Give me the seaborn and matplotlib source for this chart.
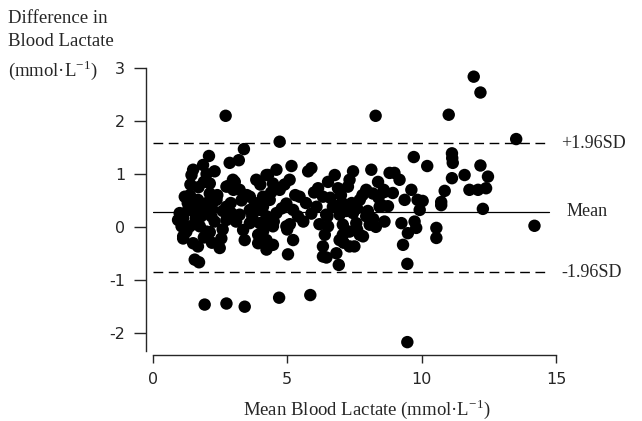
import numpy as np
import pandas as pd
import seaborn as sns
import matplotlib.pyplot as plt

# mean of the two methods (x) and difference (y)
mean_lactate = [
    2.71, 8.29, 4.72, 11.01, 11.94, 12.19, 13.52, 14.20, 9.47, 1.93, 2.74, 3.42, 4.70, 5.86, 9.47, 1.56, 1.72,
    9.71, 10.21, 8.81, 8.99, 9.18, 9.62, 8.62, 8.93, 9.37, 9.85, 10.04, 8.75, 9.93, 8.62, 9.25, 9.74, 9.80,
    10.55, 10.55, 9.49, 9.31, 11.13, 11.16, 12.19, 11.60, 11.13, 12.47, 11.78, 12.10, 12.40, 10.86, 10.73,
    10.73, 12.28, 11.14, 8.55, 8.59,
    3.39, 2.09, 3.20, 2.86, 1.87, 1.50, 2.30, 1.44, 2.12, 2.80, 3.05, 1.19, 1.38, 1.68, 2.12, 2.37, 1.00,
    1.13, 0.94, 1.07, 1.31, 1.57, 1.87, 2.06, 2.18, 2.74, 2.92, 2.74, 3.23, 3.61, 3.98, 1.38, 1.75, 2.00,
    1.25, 1.13, 2.12, 1.13, 1.50, 1.68, 2.55, 2.49, 3.36, 3.42, 3.92, 4.23, 3.92, 2.74, 2.98, 3.85, 4.29,
    3.23, 3.61, 4.10, 3.61, 3.98, 4.30,
    5.16, 5.90, 5.78, 4.60, 4.23, 6.77, 7.45, 8.13, 7.32, 6.52, 6.89, 7.26, 8.38, 6.15, 7.94, 8.19, 5.09,
    5.46, 4.72, 4.47, 6.33, 6.09, 6.70, 7.07, 7.70, 8.44, 4.35, 4.97, 5.22, 4.10, 4.60, 4.23, 6.45, 6.95,
    7.45, 7.94, 6.52, 7.07, 7.57, 8.07, 4.47, 4.97, 4.10, 7.32, 7.70, 7.82, 7.07, 6.95, 7.32, 7.50, 4.23,
    4.47, 5.22, 6.33, 6.83, 6.33, 5.03, 6.92, 6.46,
    1.30, 1.50, 1.60, 1.80, 2.00, 2.20, 2.30, 1.90, 2.20, 2.40, 1.70, 1.90, 2.00, 2.60, 2.90, 3.10, 3.30,
    3.50, 3.70, 3.80, 4.00, 4.40, 4.50, 4.80, 4.90, 5.10, 5.30, 5.60, 5.70, 5.90, 6.00, 6.20, 6.40, 6.60,
    6.80, 7.00, 7.20, 7.40, 7.60, 7.80, 8.00, 8.20, 8.40, 3.00, 2.60, 1.40, 5.00, 5.40, 6.50, 7.10, 7.60,
    8.30,
]
diff_lactate = [
    2.10, 2.10, 1.61, 2.12, 2.84, 2.54, 1.66, 0.02, -2.18, -1.47, -1.45, -1.51, -1.34, -1.29, -0.70, -0.62, -0.67,
    1.32, 1.15, 1.02, 1.02, 0.89, 0.70, 0.66, 0.64, 0.51, 0.51, 0.49, 0.39, 0.32, 0.10, 0.07, 0.10, -0.02,
    -0.02, -0.21, -0.12, -0.34, 1.39, 1.21, 1.16, 0.98, 0.92, 0.95, 0.70, 0.70, 0.73, 0.68, 0.47,
    0.41, 0.34, 1.30, 0.40, 0.70,
    1.47, 1.34, 1.26, 1.21, 1.17, 1.08, 1.05, 0.98, 0.82, 0.77, 0.85, 0.57, 0.60, 0.51, 0.63, 0.51, 0.26,
    0.17, 0.13, 0.01, 0.32, 0.26, 0.32, 0.38, 0.20, 0.38, 0.26, 0.13, 0.23, 0.32, 0.32, 0.01, 0.01, -0.09,
    -0.09, -0.18, -0.10, -0.22, -0.31, -0.37, -0.22, -0.40, -0.06, -0.25, -0.15, -0.43, -0.31, 0.76, 0.89, 0.89, 0.98,
    0.70, 0.57, 0.57, 0.07, 0.07, 0.04,
    1.15, 1.11, 1.05, 1.08, 0.98, 0.98, 1.05, 1.08, 0.89, 0.85, 0.73, 0.76, 0.85, 0.73, 0.70, 0.63, 0.89,
    0.57, 0.70, 0.82, 0.57, 0.38, 0.38, 0.44, 0.51, 0.38, 0.51, 0.44, 0.32, 0.38, 0.26, 0.20, 0.23, 0.23,
    0.26, 0.20, 0.01, 0.04, 0.07, 0.04, 0.01, 0.01, -0.09, -0.09, -0.15, -0.18, -0.15, -0.25, -0.37, -0.37, -0.25,
    -0.34, -0.25, -0.37, -0.50, -0.56, -0.52, -0.72, -0.58,
    0.45, 0.40, 0.15, 0.20, 0.45, 0.35, 0.10, -0.20, -0.30, 0.60, 0.75, 0.85, 1.00, 0.30, 0.45, 0.10, 0.50,
    0.60, 0.20, 0.45, 0.80, 0.65, 0.10, 0.35, 0.80, 0.05, 0.60, 0.10, 0.45, 0.25, 0.65, 0.05, -0.15, 0.55,
    0.40, 0.60, 0.30, 0.45, 0.35, 0.60, 0.30, 0.15, 0.55, 0.70, -0.05, 0.80, -0.05, 0.20, 0.20, -0.30, -0.05,
    0.00,
]

mean_diff = 0.29
upper_loa = 1.58
lower_loa = -0.86

df = pd.DataFrame({"mean": mean_lactate, "diff": diff_lactate})

sns.set_style("ticks")
plt.rcParams["mathtext.fontset"] = "custom"
plt.rcParams["mathtext.rm"] = "Liberation Serif"
plt.rcParams["axes.unicode_minus"] = False
serif = ["Liberation Serif", "DejaVu Serif"]

fig = plt.figure(figsize=(6.42, 4.21), dpi=100)
ax = fig.add_axes([0.238, 0.166, 0.628, 0.672])

sns.scatterplot(data=df, x="mean", y="diff", color="black", s=80, edgecolor="none", ax=ax, zorder=3)

ax.axhline(mean_diff, xmax=0.983, color="black", lw=0.9)
ax.axhline(upper_loa, xmax=0.983, color="black", lw=1.0, dashes=(7, 4))
ax.axhline(lower_loa, xmax=0.983, color="black", lw=1.0, dashes=(7, 4))

ax.text(15.2, upper_loa, "+1.96SD", family=serif, fontsize=13, va="center", ha="left")
ax.text(15.4, mean_diff, "Mean", family=serif, fontsize=13, va="center", ha="left")
ax.text(15.2, lower_loa, "-1.96SD", family=serif, fontsize=13, va="center", ha="left")

ax.set_xlim(0, 15)
ax.set_ylim(-2.35, 3)
ax.set_xticks([0, 5, 10, 15])
ax.set_yticks([-2, -1, 0, 1, 2, 3])
ax.set_xlabel("Mean Blood Lactate (mmol·L$^{-1}$)", family=serif, fontsize=13.5)
ax.xaxis.set_label_coords(0.53, -0.162)
ax.set_ylabel("")
ax.tick_params(axis="x", length=6, width=1, labelsize=11.5, pad=6)
ax.tick_params(axis="y", length=9, width=1, labelsize=11.5, pad=6)
for lab in ax.get_xticklabels() + ax.get_yticklabels():
    lab.set_family("Liberation Sans")
    lab.set_weight("bold")

sns.despine(ax=ax, offset={"left": 5, "bottom": 3})
ax.spines["left"].set_linewidth(1)
ax.spines["bottom"].set_linewidth(1)

fig.text(0.012, 0.976, "Difference in\nBlood Lactate\n(mmol·L$^{-1}$)", family=serif, fontsize=13.5,
         va="top", ha="left", linespacing=1.45)

fig.savefig("out.png", dpi=100)
